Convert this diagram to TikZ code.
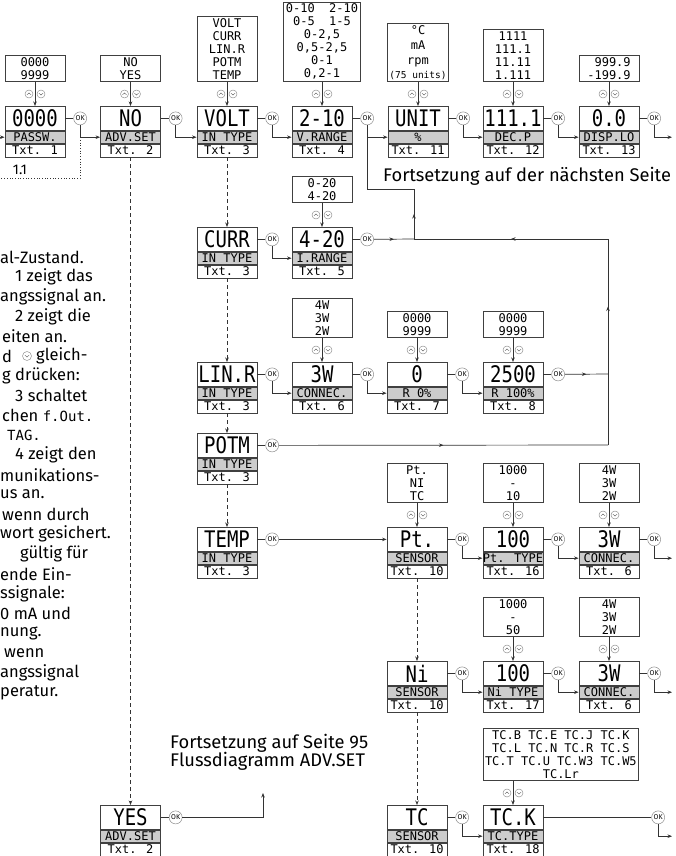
\documentclass[tikz,border=0pt]{standalone}
\usepackage{fontspec}
\setmainfont{Fira Sans}
\newfontfamily\lcd{DejaVu Sans Mono}
\usepackage{graphicx}
\usetikzlibrary{arrows.meta,calc,positioning,decorations.markings}
\newcommand\lcdtext[1]{{\lcd\fontsize{14}{14}\selectfont #1}}

\begin{document}
\begin{tikzpicture}[x=1pt, y=-1pt,
  >={Stealth[length=4.5pt,width=3.5pt]},
  wire/.style={draw=black!80, line width=0.7pt},
  midarr/.style={postaction={decorate}, decoration={markings, mark=at position 0.5 with {\arrow{>}}}},
  disp/.style={draw=black!75, line width=0.8pt, fill=white, minimum width=60pt, minimum height=24pt, inner sep=0pt, anchor=north, font=\lcd\fontsize{19}{19}\selectfont},
  lbl/.style={draw=black!75, line width=0.8pt, fill=black!20, minimum width=60pt, minimum height=12pt, inner sep=0pt, font=\lcd\fontsize{12}{12}\selectfont},
  txt/.style={draw=black!75, line width=0.8pt, fill=white, minimum width=60pt, minimum height=13pt, inner sep=0pt, font=\lcd\fontsize{12}{12}\selectfont},
  opt/.style={draw=black!75, line width=0.8pt, minimum width=60pt, inner xsep=2pt, inner ysep=2pt, align=center, font=\lcd\fontsize{12}{13}\selectfont},
  ok/.style={circle, draw=black!45, line width=0.5pt, fill=white, minimum size=13pt, inner sep=0pt, font=\fontsize{7}{7}\selectfont},
  key/.style={circle, draw=black!45, line width=0.45pt, fill=white, minimum size=8pt, inner sep=0pt},
  keyup/.style={key, path picture={\draw[black!60, line width=0.45pt] ([shift={(-2pt,-0.8pt)}]path picture bounding box.center) -- ++(2pt,1.8pt) -- ++(2pt,-1.8pt);}},
  keydn/.style={key, path picture={\draw[black!60, line width=0.45pt] ([shift={(-2pt,0.8pt)}]path picture bounding box.center) -- ++(2pt,-1.8pt) -- ++(2pt,1.8pt);}},
  note/.style={font=\fontsize{16.5}{19}\selectfont, anchor=west, inner sep=0pt}
]
\path[use as bounding box, fill=white] (0,0) rectangle (676,856);

% display boxes: value / parameter / text number
\foreach \bx/\px/\py/\val/\lab/\tx/\gap in {
  passw/35/106/0000/PASSW./1/8pt,
  adv/130.5/106/NO/ADV.SET/2/8pt,
  volt/227/106/VOLT/IN TYPE/3/8pt,
  vrange/322/106/2-10/V.RANGE/4/8pt,
  unit/418/106/UNIT/\%/11/8pt,
  decp/513/106/111.1/DEC.P/12/8pt,
  displo/609/106/0.0/DISP.LO/13/8pt,
  curr/227/227/CURR/IN TYPE/3/8pt,
  irange/322/227/4-20/I.RANGE/5/8pt,
  linr/227/362/LIN.R/IN TYPE/3/8pt,
  conn/322/362/3W/CONNEC./6/8pt,
  rlo/417/362/0/R 0\%/7/8pt,
  rhi/513/362/2500/R 100\%/8/8pt,
  potm/227/433/POTM/IN TYPE/3/8pt,
  temp/227/527/TEMP/IN TYPE/3/8pt,
  pt/417/527/Pt./SENSOR/10/8pt,
  pttype/513/527/100/Pt. TYPE/16/8pt,
  ptconn/609/527/3W/CONNEC./6/8pt,
  ni/417/661/Ni/SENSOR/10/8pt,
  nitype/513/661/100/Ni TYPE/17/8pt,
  niconn/609/661/3W/CONNEC./6/8pt,
  tc/417/805/TC/SENSOR/10/8pt,
  tctype/513/805/TC.K/TC.TYPE/18/108pt,
  yes/130.5/805/YES/ADV.SET/2/8pt
} {
  \node[disp] (\bx) at (\px,\py) {\scalebox{1}[1.2]{\val}};
  \node[lbl, below=0pt of \bx] (\bx-l) {\lab};
  \node[txt, below=0pt of \bx-l] (\bx-t) {Txt. \tx};
  \node[ok, right=\gap of \bx] (\bx-ok) {OK};
  \draw[wire] (\bx) -- (\bx-ok);
}

% selection lists
\node[opt, above=24pt of passw] (passw-o) {0000\\9999};
\node[opt, above=24pt of adv] (adv-o) {NO\\YES};
\node[opt, above=24pt of volt] (volt-o) {VOLT\\CURR\\LIN.R\\POTM\\TEMP};
\node[opt, above=24pt of vrange] (vrange-o) {0-10~~2-10\\0-5~~1-5\\0-2,5\\0,5-2,5\\0-1\\0,2-1};
\node[opt, above=24pt of unit] (unit-o) {°C\\[2pt]mA\\[2pt]rpm\\[1pt]{\fontsize{9.5}{10}\selectfont(75 units)}};
\node[opt, above=24pt of decp] (decp-o) {1111\\111.1\\11.11\\1.111};
\node[opt, above=24pt of displo] (displo-o) {~999.9\\-199.9};
\node[opt, above=24pt of irange] (irange-o) {0-20\\4-20};
\node[opt, above=24pt of conn] (conn-o) {4W\\3W\\2W};
\node[opt, above=24pt of rlo] (rlo-o) {0000\\9999};
\node[opt, above=24pt of rhi] (rhi-o) {0000\\9999};
\node[opt, above=24pt of pt] (pt-o) {Pt.\\NI\\TC};
\node[opt, above=24pt of pttype] (pttype-o) {1000\\-\\10};
\node[opt, above=24pt of ptconn] (ptconn-o) {4W\\3W\\2W};
\node[opt, above=24pt of nitype] (nitype-o) {1000\\-\\50};
\node[opt, above=24pt of niconn] (niconn-o) {4W\\3W\\2W};
\node[opt, above right=24pt and 0pt of tctype.north west] (tctype-o)
  {TC.B TC.E TC.J TC.K\\TC.L TC.N TC.R TC.S\\TC.T TC.U TC.W3 TC.W5\\TC.Lr};

% up/down keys
\foreach \bx in {passw, adv, volt, vrange, unit, decp, displo, irange, conn, rlo, rhi,
  pt, pttype, ptconn, nitype, niconn, tctype} {
  \draw[wire,->] (\bx-o.south -| \bx.north) -- (\bx.north);
  \node[keyup] (\bx-ku) at ([shift={(-6pt,12pt)}]\bx.north) {};
  \node[keydn] (\bx-kd) at ([shift={(6pt,12pt)}]\bx.north) {};
}

% OK -> next parameter
\foreach \a/\b in {passw/adv, adv/volt, volt/vrange, vrange/unit, unit/decp, decp/displo,
  curr/irange, linr/conn, conn/rlo, rlo/rhi, pt/pttype, pttype/ptconn,
  ni/nitype, nitype/niconn, tc/tctype}
  \draw[wire,->] (\a-ok) |- (\b-l);

\coordinate (west) at (0,0);
\coordinate (east) at (672,0);
\foreach \a in {displo, ptconn, niconn, tctype}
  \draw[wire,->] (\a-ok) |- (\a-l -| east);
\draw[wire,->] (west |- passw-l) -- (passw-l);
\coordinate (dotend) at (0,178);
\draw[wire, dotted] (passw-ok |- adv-l) |- (dotend);
\node[font=\fontsize{14}{14}\selectfont, inner sep=0pt] (sec) at (20,170) {1.1};

% alternatives
\foreach \a/\b in {volt/curr, curr/linr, linr/potm, potm/temp, adv/yes, pt/ni, ni/tc}
  \draw[wire, dash pattern=on 4pt off 3pt, ->] (\a-t) -- (\b);

% return to UNIT
\coordinate (j1) at (414,239);
\coordinate (j2) at (414,189);
\coordinate (j4) at (608,239);
\coordinate (j5) at (608,374);
\coordinate (j6) at (608,445);
\draw[wire, midarr] (irange-ok) -- (j1);
\draw[wire, midarr] (j1) -- (j2);
\draw[wire] (j2) -| (vrange-ok |- unit-l);
\draw[wire, midarr] (rhi-ok) -- (j5);
\draw[wire, midarr] (potm-ok) -- (j6);
\draw[wire] (j6) -- (j5);
\draw[wire, midarr] (j5) -- (j4);
\draw[wire, midarr] (j4) -- (j1);
\draw[wire,->] (temp-ok) -- (pt);

\node[note, font=\fontsize{18.3}{19}\selectfont] (cont1) at (383,176) {Fortsetzung auf der nächsten Seite};
\node[note, anchor=north west, align=left, font=\fontsize{18.3}{18.5}\selectfont] (cont2) at (170,734)
  {Fortsetzung auf Seite 95\\Flussdiagramm ADV.SET};
\coordinate (c2) at (263,793);
\draw[wire,->] (yes-ok) -| (c2);

% cut-off description on the left
\foreach \i/\px/\s in {0/0/al-Zustand., 1/15/1 zeigt das, 2/0/angssignal an., 3/15/2 zeigt die,
  4/2/eiten an., 5/2/d, 6/2/g drücken:, 7/15/3 schaltet, 8/2/chen \lcdtext{f.Out.},
  9/7/\lcdtext{TAG.}, 10/15/4 zeigt den, 11/0/munikations-, 12/0/us an., 13/2/wenn durch,
  14/0/wort gesichert., 15/20/gültig für, 16/0/ende Ein-, 17/0/ssignale:, 18/0/0 mA und,
  19/0/nung., 20/4/wenn, 21/0/angssignal, 22/0/peratur.}
  \node[note] (n\i) at (\px, 257+19.8*\i) {\s};
\node[keydn, minimum size=9pt] (n5k) at (27, 257+19.8*5) {};
\node[note] (n5b) at (36, 257+19.8*5) {gleich-};
\end{tikzpicture}
\end{document}
